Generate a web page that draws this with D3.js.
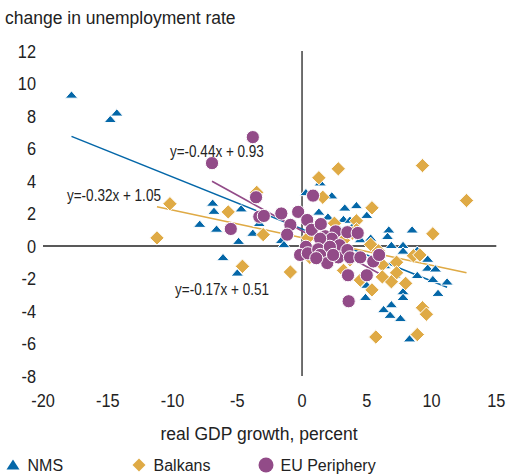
<!DOCTYPE html>
<html><head><meta charset="utf-8">
<script src="https://cdn.jsdelivr.net/npm/d3@7"></script>
<style>
body{margin:0;background:#fff;}
svg{display:block;}
.narrow{font-family:"Liberation Sans Narrow","Liberation Sans",Arial,sans-serif;}
.reg{font-family:"Liberation Sans",Arial,sans-serif;}
</style></head>
<body>
<svg id="c" width="506" height="475"></svg>
<script>
// ---- data ----
const xTicks = [-20,-15,-10,-5,0,5,10,15];
const yTicks = [-8,-6,-4,-2,0,2,4,6,8,10,12];
const seriesNames = ["NMS","Balkans","EU Periphery"];
const nmsX = [-17.8,-14.8,-14.3,-6.9,-6.8,-4.7,-7.9,-6.6,-4.9,-3.8,-6.1,-5.0,-1.6,-1.4,-3.3,0.3,2.3,1.3,4.2,3.3,3.2,6.7,6.6,8.5,6.9,7.8,7.8,8.9,9.7,9.7,10.3,8.9,10.1,11.2,10.5,7.8,7.8,6.9,6.3,6.8,7.6,8.3,4.9,5.0,3.7,5.0,1.4,2.9,4.5,5.6,6.4,7.2,2.0,3.9,5.3,6.0];
const nmsY = [9.3,7.8,8.2,2.65,2.15,2.3,1.35,1.05,0.3,0.8,-0.7,-1.65,0.35,0.1,1.4,3.3,3.1,2.1,2.5,2.35,1.65,1.0,0.6,1.0,0.05,0.05,-0.3,-0.25,-0.8,-1.35,-1.4,-1.8,-2.05,-2.2,-2.9,-2.8,-3.15,-3.6,-3.9,-4.25,-4.45,-5.7,-3.15,-2.4,1.6,1.9,3.9,1.0,0.4,-0.75,-1.2,-1.8,1.8,1.2,0.5,-0.3];
const balX = [2.8,9.3,12.7,1.3,-10.2,-11.2,-5.7,-3.0,-4.6,-0.9,-3.5,1.6,5.4,10.1,2.5,4.2,4.2,5.3,5.9,6.2,7.3,8.6,9.1,7.3,8.0,6.9,6.2,5.4,4.5,3.7,3.2,3.9,9.3,9.6,5.7,8.9,0.45,0.6,3.2];
const balY = [4.75,4.95,2.8,4.2,2.6,0.5,2.1,0.7,-1.25,-1.6,3.3,3.0,2.35,0.75,1.4,1.55,1.0,0.1,-0.3,-1.15,-1.0,-0.6,-0.55,-1.65,-2.3,-2.2,-1.9,-2.7,-2.1,-0.85,0.35,0.8,-3.8,-4.2,-5.6,-5.45,0.5,-0.7,-1.5];
const euX = [-3.8,-6.95,-3.55,-5.5,-3.3,-2.95,-1.6,-0.3,-0.9,-1.15,0.85,0.4,0.75,1.45,1.8,2.6,3.5,4.3,2.3,2.9,1.4,0.3,-0.15,0.45,1.25,2.15,1.4,1.95,2.8,3.5,3.7,4.5,5.5,5.95,3.55,5.0,3.6,2.4,1.1];
const euY = [6.7,5.1,3.0,1.05,1.8,1.85,2.0,2.1,1.3,0.7,3.1,1.6,1.0,1.35,0.6,0.9,0.85,0.8,0.45,0.05,0.45,-0.05,-0.55,-0.45,-0.2,-0.05,-0.55,-1.05,-0.7,-0.25,-0.7,-0.7,-0.95,-0.55,-1.8,-1.8,-3.4,-0.55,-0.75];
const slopes = [-0.32,-0.17,-0.44];
const intercepts = [1.05,0.51,0.93];
const eqLabels = ["y=-0.32x + 1.05","y=-0.17x + 0.51","y=-0.44x + 0.93"];
const titleText = "change in unemployment rate";
const xTitleText = "real GDP growth, percent";

// ---- layout ----
const colors = ["#0467a8","#dfaa45","#924b88"];
const svg = d3.select("#c");
const x = d3.scaleLinear().domain([-20,15]).range([43,496.3]);
const y = d3.scaleLinear().domain([-8,12]).range([376,51]);

const series = [
  {pts: nmsX.map((v,i)=>[v,nmsY[i]]), shape:"tri"},
  {pts: balX.map((v,i)=>[v,balY[i]]), shape:"dia"},
  {pts: euX.map((v,i)=>[v,euY[i]]), shape:"cir"}
];

// title
svg.append("text").attr("class","reg").attr("x",5).attr("y",24)
  .attr("font-size",17.5).attr("fill","#222").text(titleText);

// zero lines
svg.append("line").attr("x1",x(-20)).attr("x2",x(15)).attr("y1",y(0)).attr("y2",y(0))
  .attr("stroke","#222").attr("stroke-width",1.3);
svg.append("line").attr("x1",x(0)).attr("x2",x(0)).attr("y1",y(12)).attr("y2",y(-8))
  .attr("stroke","#222").attr("stroke-width",1.3);

// tick labels (condensed by horizontal scaling)
svg.append("g").selectAll("text").data(yTicks).join("text")
  .attr("class","narrow").attr("transform",d=>`translate(36,${y(d)+6.8}) scale(0.86,1)`)
  .attr("text-anchor","end").attr("font-size",19).attr("fill","#222").text(d=>d);
svg.append("g").selectAll("text").data(xTicks).join("text")
  .attr("class","narrow").attr("transform",d=>`translate(${x(d)},407) scale(0.86,1)`)
  .attr("text-anchor","middle").attr("font-size",19).attr("fill","#222").text(d=>d);

// axis title
svg.append("text").attr("class","reg").attr("x",259).attr("y",440)
  .attr("text-anchor","middle").attr("font-size",17.5).attr("fill","#222").text(xTitleText);

// regression lines
series.forEach((s,i)=>{
  const ext = d3.extent(s.pts,d=>d[0]);
  svg.append("line")
    .attr("x1",x(ext[0])).attr("y1",y(slopes[i]*ext[0]+intercepts[i]))
    .attr("x2",x(ext[1])).attr("y2",y(slopes[i]*ext[1]+intercepts[i]))
    .attr("stroke",colors[i]).attr("stroke-width",1.6);
});

// markers
function shapePath(shape){
  if(shape==="tri") return "M0,-4L6.3,3.3L-6.3,3.3Z";
  if(shape==="dia") return "M0,-7.2L7.2,0L0,7.2L-7.2,0Z";
  return d3.symbol(d3.symbolCircle, Math.PI*6.6*6.6)();
}
series.forEach((s,i)=>{
  svg.append("g").selectAll("path").data(s.pts).join("path")
    .attr("d",shapePath(s.shape))
    .attr("transform",d=>`translate(${x(d[0])},${y(d[1])})`)
    .attr("fill",colors[i]).attr("stroke","#fff").attr("stroke-width",1);
});

// equation labels (anchored in data coordinates), condensed
const eqPos = [[-18.15,2.77],[-9.8,-3.0],[-10.2,5.48]];
eqLabels.forEach((t,i)=>{
  svg.append("text").attr("class","narrow")
    .attr("transform",`translate(${x(eqPos[i][0])},${y(eqPos[i][1])}) scale(0.82,1)`)
    .attr("font-size",16.5).attr("fill","#222").text(t);
});

// legend
const legX = [13,139,266];
const legShapes = ["M0,-5.5L6.5,4.5L-6.5,4.5Z","M0,-6.5L6.5,0L0,6.5L-6.5,0Z",d3.symbol(d3.symbolCircle,Math.PI*7.5*7.5)()];
seriesNames.forEach((n,i)=>{
  svg.append("path").attr("d",legShapes[i]).attr("transform",`translate(${legX[i]},465)`)
    .attr("fill",colors[i]);
  svg.append("text").attr("class","reg").attr("x",legX[i]+14.5).attr("y",471)
    .attr("font-size",16).attr("fill","#222").text(n);
});
</script>
</body></html>
